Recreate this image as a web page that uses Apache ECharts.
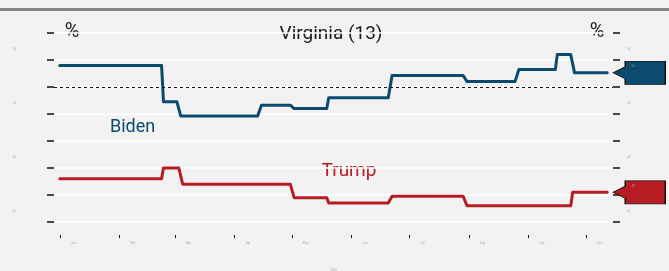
<!DOCTYPE html>
<html>
<head>
<meta charset="utf-8">
<script src="https://cdn.jsdelivr.net/npm/echarts@6/dist/echarts.min.js"></script>
<style>
html,body{margin:0;padding:0;background:#f2f2f2;}
#chart{width:669px;height:271px;}
</style>
</head>
<body>
<div id="chart"></div>
<script>
// ---- data ----
const axisStart = '2019-12-29';
const axisEnd = '2020-10-15';
const monthLabels = ['Jan','Feb','Mar','Apr','May','Jun','Jul','Aug','Sep','Oct','Nov','Dec'];
const yLabelValues = [54, 50, 46, 42];

const bidenDates = ['2020-01-01','2020-02-23','2020-02-24','2020-03-02','2020-03-04','2020-04-13','2020-04-15','2020-04-30','2020-05-02','2020-05-19','2020-05-20','2020-06-20','2020-06-22','2020-07-29','2020-07-31','2020-08-25','2020-08-27','2020-09-15','2020-09-16','2020-09-23','2020-09-25','2020-10-12'];
const bidenValues = [51.6,51.6,48.9,48.9,47.85,47.85,48.65,48.65,48.4,48.4,49.2,49.2,50.85,50.85,50.4,50.4,51.3,51.3,52.4,52.4,51.05,51.05];

const trumpDates = ['2020-01-01','2020-02-23','2020-02-24','2020-03-03','2020-03-05','2020-04-30','2020-05-02','2020-05-19','2020-05-20','2020-06-20','2020-06-22','2020-07-29','2020-07-31','2020-09-23','2020-09-24','2020-10-12'];
const trumpValues = [43.2,43.2,44.0,44.0,42.8,42.8,41.8,41.8,41.4,41.4,41.9,41.9,41.2,41.2,42.2,42.2];

// ---- build ----
function buildDays(a, b) {
  const out = [];
  let t = Date.parse(a + 'T00:00:00Z');
  const end = Date.parse(b + 'T00:00:00Z');
  while (t <= end) { out.push(new Date(t).toISOString().slice(0, 10)); t += 86400000; }
  return out;
}
const days = buildDays(axisStart, axisEnd);
const FONT = 'Roboto, "Noto Sans", sans-serif';
const BLUE = '#0c4a70';
const RED = '#b81c23';
const flagPath = 'path://M12 0 H52 V23 H12 V17.5 L0 11.5 L12 5.5 Z';

function yAxisCfg(pos, margin, split) {
  return {
    type: 'value', min: 40, max: 54, interval: 2, position: pos,
    axisLine: { show: false },
    axisTick: { show: true, inside: false, length: 7, lineStyle: { color: '#111', width: 1.5 } },
    axisLabel: {
      fontSize: 3, color: '#b5b5b5', margin: margin, fontFamily: FONT,
      verticalAlign: 'top', padding: [15, 0, 0, 0],
      formatter: v => yLabelValues.includes(v) ? String(v) : ''
    },
    splitLine: { show: split, lineStyle: { color: '#ffffff', width: 1.5 } }
  };
}
function txt(x, y, text, size, color, align) {
  return { type: 'text', x: x, y: y, style: { text: text, font: 'normal ' + size + 'px ' + FONT, fill: color,
    textAlign: align, textVerticalAlign: 'middle', align: align, verticalAlign: 'middle' } };
}

const chart = echarts.init(document.getElementById('chart'), null, { renderer: 'canvas' });
chart.setOption({
  backgroundColor: '#f2f2f2',
  animation: false,
  grid: { left: 54, width: 559, top: 33, height: 189, outerBoundsMode: 'none', containLabel: false },
  xAxis: {
    type: 'category', data: days, boundaryGap: false, offset: 13,
    axisLine: { show: false },
    axisTick: { show: true, length: 3, interval: (i, v) => v.endsWith('-01'), lineStyle: { color: '#111', width: 1 } },
    axisLabel: {
      interval: (i, v) => v.endsWith('-08'),
      formatter: v => monthLabels[parseInt(v.slice(5, 7), 10) - 1],
      fontSize: 3, color: '#aaa', margin: 7, fontFamily: FONT
    },
    splitLine: { show: false },
    name: '2020', nameLocation: 'middle', nameGap: 34,
    nameTextStyle: { fontSize: 3, color: '#aaa', fontFamily: FONT }
  },
  yAxis: [yAxisCfg('left', 38, true), yAxisCfg('right', 14, false)],
  graphic: [
    { type: 'rect', shape: { x: 0, y: 8, width: 669, height: 3 }, style: { fill: '#858585' } },
    txt(331, 34, 'Virginia (13)', 19, '#1a1a1a', 'center'),
    txt(72, 32, '%', 20, '#1a1a1a', 'center'),
    txt(597, 32, '%', 20, '#1a1a1a', 'center'),
    txt(110, 127, 'Biden', 18, BLUE, 'left'),
    txt(349, 171, 'Trump', 19, RED, 'center')
  ],
  series: [
    {
      name: 'Biden', type: 'line', yAxisIndex: 0, showSymbol: false, clip: false,
      data: bidenDates.map((d, i) => [d, bidenValues[i]]),
      lineStyle: { color: BLUE, width: 3, cap: 'round', join: 'round' },
      itemStyle: { color: BLUE },
      markLine: {
        silent: true, symbol: 'none', label: { show: false },
        lineStyle: { color: '#111', width: 1, type: [3, 3] },
        data: [{ yAxis: 50 }]
      },
      markPoint: {
        symbol: flagPath, symbolSize: [52, 23], symbolOffset: [32, 0], silent: true,
        itemStyle: { color: BLUE, borderColor: '#111', borderWidth: 1 },
        label: { show: true, formatter: '{c}', fontSize: 3, color: '#8fb0c8', position: [19, 4] },
        data: [{ coord: [bidenDates[bidenDates.length - 1], bidenValues[bidenValues.length - 1]], value: Math.round(bidenValues[bidenValues.length - 1]) }]
      }
    },
    {
      name: 'Trump', type: 'line', yAxisIndex: 0, showSymbol: false, clip: false,
      data: trumpDates.map((d, i) => [d, trumpValues[i]]),
      lineStyle: { color: RED, width: 3, cap: 'round', join: 'round' },
      itemStyle: { color: RED },
      markPoint: {
        symbol: flagPath, symbolSize: [52, 23], symbolOffset: [32, 0], silent: true,
        itemStyle: { color: RED, borderColor: '#111', borderWidth: 1 },
        label: { show: true, formatter: '{c}', fontSize: 3, color: '#d99', position: [19, 4] },
        data: [{ coord: [trumpDates[trumpDates.length - 1], trumpValues[trumpValues.length - 1]], value: Math.round(trumpValues[trumpValues.length - 1]) }]
      }
    }
  ]
});
</script>
</body>
</html>
